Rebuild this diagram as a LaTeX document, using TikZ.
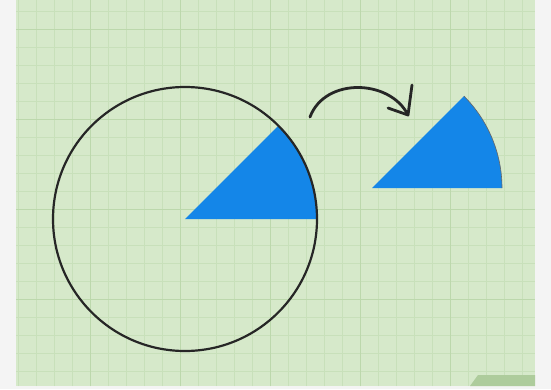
\documentclass[tikz,border=0pt]{standalone}
\definecolor{bggreen}{RGB}{214,233,202}
\definecolor{gridminor}{RGB}{200,224,186}
\definecolor{gridmajor}{RGB}{188,216,172}
\definecolor{sectorblue}{RGB}{20,134,232}
\definecolor{edgegray}{RGB}{244,244,244}
\definecolor{tabgreen}{RGB}{120,170,90}
\tikzset{
  sector/.style={fill=sectorblue, draw=none},
  outline/.style={draw=black!85, line width=2.2pt},
  turnarrow/.style={draw=black!85, line width=2.8pt, line cap=round, line join=round}
}
\begin{document}
\begin{tikzpicture}[x=1pt,y=1pt]
\useasboundingbox (0,0) rectangle (551,389);
\fill[edgegray] (0,0) rectangle (551,389);
\fill[bggreen] (16,3) rectangle (535,389);
\begin{scope}
\clip (16,3) rectangle (535,389);
\draw[gridminor, line width=0.6pt, step=18] (16,3) grid (535,389);
\draw[gridmajor, line width=0.9pt, step=90] (16,3) grid (535,389);
\end{scope}
% watermark tab
\fill[tabgreen!60] (470,3) -- (478,14) -- (535,14) -- (535,3) -- cycle;
% circle with sector
\fill[sector] (185,170) -- ++(0:132) arc[start angle=0,end angle=45,radius=132] -- cycle;
\draw[outline] (185,170) circle[radius=132];
% detached sector
\fill[sector] (372,201) -- ++(0:130) arc[start angle=0,end angle=45,radius=130] -- cycle;
\draw[draw=black!60, line width=0.6pt] (372,201) ++(0:130) arc[start angle=0,end angle=45,radius=130];
% arrow
\coordinate (astart) at (310,272);
\coordinate (atip) at (408,274);
\draw[turnarrow] (astart) .. controls (325,312) and (390,310) .. (atip);
\draw[turnarrow] (412,304) -- (atip) -- (388,281);
\end{tikzpicture}
\end{document}
